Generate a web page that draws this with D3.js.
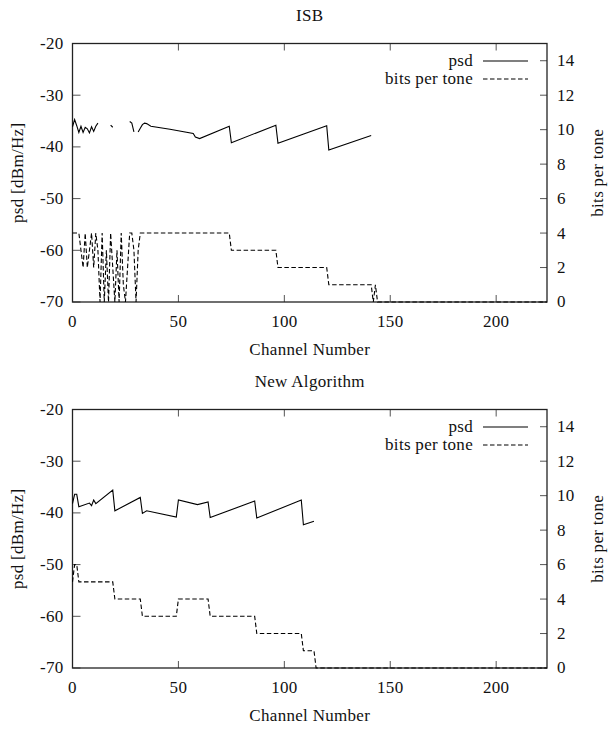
<!DOCTYPE html>
<html>
<head>
<meta charset="utf-8">
<script src="https://cdn.jsdelivr.net/npm/d3@7"></script>
<style>
  body { margin: 0; background: #fff; }
  text { font-family: "Liberation Serif", "DejaVu Serif", serif; font-size: 17px; letter-spacing: 0.3px; fill: #111; }
</style>
</head>
<body>
<div id="chart"></div>
<script>
// tick labels
const xTicks = [0, 50, 100, 150, 200];
const psdTicks = [-20, -30, -40, -50, -60, -70];
const bitsTicks = [0, 2, 4, 6, 8, 10, 12, 14];

// ISB panel (null = no psd drawn there)
const isbPsdCh = [0, 1, 2, 3, 4, 5, 6, 7, 8, 9, 10, 11, 12, 13, 18, 19, 20, 27, 28, 29, 30,
  31, 32, 33, 34, 35, 37, 46, 57, 58, 60, 74, 75, 96, 97, 120, 121, 141];
const isbPsd = [-36.1, -34.7, -35.9, -37.2, -36.0, -37.2, -36.2, -36.5, -37.3, -36.1, -37.0, -36.0, -35.4, null,
  -35.8, -36.2, null, -35.1, -35.4, -37.1, null,
  -37.1, -36.4, -35.7, -35.4, -35.5, -36.0, -36.6, -37.4, -38.1, -38.4, -36.0, -39.2,
  -35.8, -39.3, -35.9, -40.6, -37.8];
const isbBitsCh = [0, 1, 2, 3, 4, 5, 6, 7, 8, 9, 10, 11, 12, 13, 14, 15, 16, 17, 18, 19, 20,
  21, 22, 23, 24, 25, 26, 27, 28, 29, 30, 31, 32, 74, 75, 96, 97, 120, 121, 141, 142, 143, 144, 224];
const isbBits = [4, 4, 4, 4, 3, 2, 4, 2, 3, 4, 2, 4, 3, 0, 4, 0, 3, 0, 4, 2, 0,
  3, 0, 4, 1, 0, 2, 4, 4, 3, 0, 3, 4, 4, 3, 3, 2, 2, 1, 1, 0, 1, 0, 0];

// New Algorithm panel
const newPsdCh = [0, 1, 2, 3, 8, 9, 10, 11, 19, 20, 32, 33, 35, 49, 50, 59, 64, 65, 86, 87, 108, 109, 114];
const newPsd = [-38.2, -36.4, -36.4, -38.8, -38.1, -38.6, -37.5, -38.2, -35.6, -39.6, -37.0, -40.1, -39.6,
  -40.8, -37.5, -38.4, -37.9, -40.9, -37.7, -41.0, -37.5, -42.3, -41.6];
const newBitsCh = [0, 1, 2, 3, 19, 20, 32, 33, 49, 50, 64, 65, 86, 87, 108, 109, 114, 115, 224];
const newBits = [5, 6, 6, 5, 5, 4, 4, 3, 3, 4, 4, 3, 3, 2, 2, 1, 1, 0, 0];

const width = 608, height = 729;
const left = 72.5, right = 547, plotH = 258.5;

const svg = d3.select("#chart").append("svg")
  .attr("width", width)
  .attr("height", height);

const x = d3.scaleLinear().domain([0, 224]).range([left, right]);

function drawPanel(top, title, psdCh, psd, bitsCh, bits) {
  const y = d3.scaleLinear().domain([-70, -20]).range([top + plotH, top]);
  const y2 = d3.scaleLinear().domain([0, 15]).range([top + plotH, top]);
  const g = svg.append("g");

  // ticks (inward, gnuplot style)
  const tickCol = "#555";
  g.selectAll(null).data(psdTicks).join("line")
    .attr("x1", left).attr("x2", left + 8)
    .attr("y1", d => y(d)).attr("y2", d => y(d))
    .attr("stroke", tickCol);
  g.selectAll(null).data(psdTicks).join("text")
    .attr("x", left - 9).attr("y", d => y(d)).attr("dy", "0.32em")
    .attr("text-anchor", "end")
    .text(d => d);

  g.selectAll(null).data(bitsTicks).join("line")
    .attr("x1", right - 7).attr("x2", right)
    .attr("y1", d => y2(d)).attr("y2", d => y2(d))
    .attr("stroke", tickCol);
  g.selectAll(null).data(bitsTicks).join("text")
    .attr("x", right + 10).attr("y", d => y2(d)).attr("dy", "0.32em")
    .text(d => d);

  g.selectAll(null).data(xTicks).join("line")
    .attr("x1", d => x(d)).attr("x2", d => x(d))
    .attr("y1", top + plotH).attr("y2", top + plotH - 7)
    .attr("stroke", tickCol);
  g.selectAll(null).data(xTicks).join("line")
    .attr("x1", d => x(d)).attr("x2", d => x(d))
    .attr("y1", top).attr("y2", top + 7)
    .attr("stroke", tickCol);
  g.selectAll(null).data(xTicks).join("text")
    .attr("x", d => x(d)).attr("y", top + plotH + 20).attr("dy", "0.32em")
    .attr("text-anchor", "middle")
    .text(d => d);

  // frame
  g.append("rect")
    .attr("x", left).attr("y", top)
    .attr("width", right - left).attr("height", plotH)
    .attr("fill", "none").attr("stroke", "#222").attr("stroke-width", 1.3);

  // series
  const psdLine = d3.line()
    .defined((d, i) => psd[i] !== null)
    .x((d, i) => x(psdCh[i]))
    .y((d, i) => y(psd[i]));
  g.append("path")
    .attr("d", psdLine(psd))
    .attr("fill", "none").attr("stroke", "#000").attr("stroke-width", 1.1);

  const bitsLine = d3.line()
    .x((d, i) => x(bitsCh[i]))
    .y((d, i) => y2(bits[i]));
  g.append("path")
    .attr("d", bitsLine(bits))
    .attr("fill", "none").attr("stroke", "#000").attr("stroke-width", 1.1)
    .attr("stroke-dasharray", "4.5,2.5");

  // legend
  const legend = [
    { label: "psd", dash: null, dy: 17.5 },
    { label: "bits per tone", dash: "4.5,2.5", dy: 35.5 }
  ];
  legend.forEach(l => {
    g.append("text")
      .attr("x", 473).attr("y", top + l.dy).attr("dy", "0.32em")
      .attr("text-anchor", "end")
      .text(l.label);
    g.append("line")
      .attr("x1", 483).attr("x2", 528)
      .attr("y1", top + l.dy).attr("y2", top + l.dy)
      .attr("stroke", "#000").attr("stroke-width", 1.1)
      .attr("stroke-dasharray", l.dash);
  });

  // titles and axis labels
  const cx = (left + right) / 2, cy = top + plotH / 2;
  g.append("text")
    .attr("x", cx).attr("y", top - 28).attr("dy", "0.32em")
    .attr("text-anchor", "middle")
    .text(title);
  g.append("text")
    .attr("x", cx).attr("y", top + plotH + 48).attr("dy", "0.32em")
    .attr("text-anchor", "middle")
    .text("Channel Number");
  g.append("text")
    .attr("transform", `translate(18,${cy}) rotate(-90)`)
    .attr("dy", "0.32em")
    .attr("text-anchor", "middle")
    .text("psd [dBm/Hz]");
  g.append("text")
    .attr("transform", `translate(598,${cy}) rotate(-90)`)
    .attr("dy", "0.32em")
    .attr("text-anchor", "middle")
    .text("bits per tone");
}

drawPanel(43.5, "ISB", isbPsdCh, isbPsd, isbBitsCh, isbBits);
drawPanel(409.5, "New Algorithm", newPsdCh, newPsd, newBitsCh, newBits);
</script>
</body>
</html>
